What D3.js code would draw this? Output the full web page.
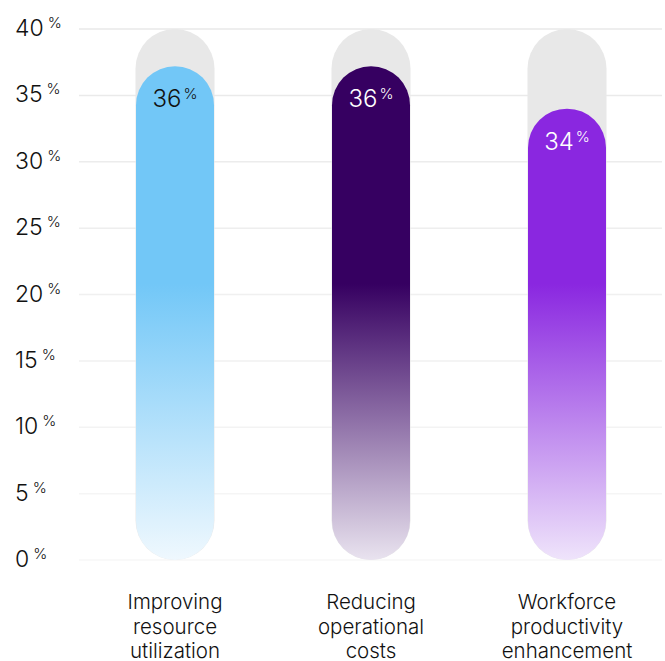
<!DOCTYPE html>
<html>
<head>
<meta charset="utf-8">
<script src="https://cdn.jsdelivr.net/npm/d3@7"></script>
<style>
  body { margin: 0; background: #fff; }
  text { font-family: Inter, "Noto Sans", sans-serif; font-weight: 300; }
</style>
</head>
<body>
<div id="chart"></div>
<script>
// chart data
const categories = [["Improving", "resource", "utilization"], ["Reducing", "operational", "costs"], ["Workforce", "productivity", "enhancement"]];
const barValues = [37.2, 37.2, 34];
const valueLabels = ["36", "36", "34"];
const maxValue = 40;
const tickValues = [0, 5, 10, 15, 20, 25, 30, 35, 40];

const barColors = ["#72c7f7", "#360061", "#8a27e0"];
const fadeColors = ["#eff8fe", "#e9e3ef", "#efe4fb"];
const labelColors = ["#111", "#fff", "#fff"];

const width = 665, height = 661;
const margin = {top: 29, right: 0, bottom: 101, left: 77};

const svg = d3.select("#chart").append("svg")
    .attr("width", width)
    .attr("height", height);

const y = d3.scaleLinear().domain([0, maxValue]).range([height - margin.bottom, margin.top]);
const x = d3.scaleBand().domain(d3.range(categories.length)).range([margin.left, width]).paddingInner(0);

const barWidth = 79;

// gradients
const defs = svg.append("defs");
barColors.forEach((c, i) => {
  let g = defs.append("linearGradient")
      .attr("id", "grad" + i)
      .attr("gradientUnits", "userSpaceOnUse")
      .attr("x1", 0).attr("x2", 0)
      .attr("y1", y(0)).attr("y2", y(maxValue));
  g.append("stop").attr("offset", "0%").attr("stop-color", fadeColors[i]);
  g.append("stop").attr("offset", "52%").attr("stop-color", c);
  g.append("stop").attr("offset", "100%").attr("stop-color", c);
});

// gridlines
svg.append("g")
  .selectAll("line")
  .data(tickValues)
  .join("line")
    .attr("x1", margin.left + 2).attr("x2", width - 3)
    .attr("y1", d => y(d)).attr("y2", d => y(d))
    .attr("stroke", d => d3.interpolateRgb("#f7f7f7", "#e8e8e8")(d / maxValue))
    .attr("stroke-width", 1.5);

// tick labels
const ticks = svg.append("g").selectAll("text")
  .data(tickValues)
  .join("text")
    .attr("x", 15)
    .attr("y", d => y(d) + 7)
    .attr("fill", "#111")
    .attr("font-size", "23px");
ticks.append("tspan").text(d => d);
ticks.append("tspan")
    .attr("font-size", "15px")
    .attr("dx", 4)
    .attr("dy", -8)
    .text("%");

const groups = svg.append("g").selectAll("g")
  .data(barValues)
  .join("g")
    .attr("transform", (d, i) => `translate(${x(i) + x.bandwidth() / 2},0)`);

// background track
groups.append("rect")
    .attr("x", -barWidth / 2)
    .attr("width", barWidth)
    .attr("y", y(maxValue))
    .attr("height", y(0) - y(maxValue))
    .attr("rx", barWidth / 2)
    .attr("fill", "#e8e8e8");

// value bar
groups.append("rect")
    .attr("x", -barWidth / 2 + 0.5)
    .attr("width", barWidth - 1)
    .attr("y", d => y(d))
    .attr("height", d => y(0) - y(d))
    .attr("rx", (barWidth - 1) / 2)
    .attr("fill", (d, i) => `url(#grad${i})`);

// value labels
const vl = groups.append("text")
    .attr("text-anchor", "middle")
    .attr("y", d => y(d) + 41)
    .attr("fill", (d, i) => labelColors[i])
    .attr("font-size", "24px");
vl.append("tspan").text((d, i) => valueLabels[i]);
vl.append("tspan")
    .attr("font-size", "15px")
    .attr("dx", 2)
    .attr("dy", -8)
    .text("%");

// category labels
groups.append("text")
    .attr("text-anchor", "middle")
    .attr("fill", "#111")
    .attr("font-size", "20.5px")
  .selectAll("tspan")
  .data((d, i) => categories[i])
  .join("tspan")
    .attr("x", 0)
    .attr("y", (d, j) => 609 + j * 24.5)
    .text(d => d);
</script>
</body>
</html>
